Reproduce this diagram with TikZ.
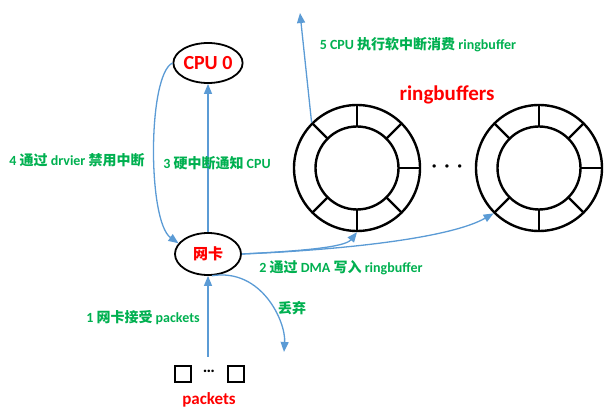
\documentclass[tikz,border=0pt]{standalone}
\usepackage{fontspec}
\setmainfont{Carlito}
\newfontfamily\cjk{Noto Sans CJK SC}
\newcommand{\zhtxt}[1]{{\cjk #1}}
\usetikzlibrary{shapes.geometric, arrows.meta}
\definecolor{FlowBlue}{RGB}{91,155,213}
\definecolor{LabelGreen}{RGB}{0,176,80}
\colorlet{TitleRed}{red}

\tikzset{
  flow/.style={draw=FlowBlue, line width=1.3pt, -{Triangle[length=10pt,width=8pt]}},
  lbl/.style={text=LabelGreen, font=\fontsize{14}{16}\selectfont\bfseries, inner sep=0pt},
  oval/.style={ellipse, draw, line width=1.8pt, minimum width=66pt, minimum height=40pt, inner sep=0pt, text=TitleRed},
  ringout/.style={circle, draw, line width=2.4pt, minimum size=126pt, inner sep=0pt},
  pkt/.style={draw, line width=2pt, minimum size=16pt, inner sep=0pt}
}

\begin{document}
\begin{tikzpicture}[x=1pt, y=1pt]
\useasboundingbox (0,0) rectangle (605,415);

\node [oval, font=\fontsize{20}{22}\selectfont\bfseries] (cpu) at (208,352) {CPU 0};
\node [oval, minimum height=42pt, font=\fontsize{15}{17}\selectfont\bfseries\cjk] (nic) at (208,161) {网卡};

\node [ringout] (ring1) at (357,247) {};
\node [ringout] (ring2) at (539,247) {};
\foreach \r in {ring1, ring2} {
  \draw [line width=2.4pt] (\r.center) circle (41.5pt);
  \foreach \a in {90,45,0,-45,-90,-135,135}
    \draw [line width=2.4pt] (\r.center) ++(\a:41.5pt) -- ++(\a:21.5pt);
}
\node [font=\fontsize{18}{18}\selectfont\bfseries] (gap) at (447,247) {·\hspace{8pt}·\hspace{8pt}·};
\node [text=TitleRed, font=\fontsize{21}{23}\selectfont\bfseries] (rbtitle) at (447,320) {ringbuffers};

\node [pkt] (p1) at (183,41) {};
\node [pkt] (p2) at (236,41) {};
\node [font=\fontsize{17}{17}\selectfont\bfseries] (pdots) at (209,44) {…};
\node [text=TitleRed, font=\fontsize{17}{19}\selectfont\bfseries] (pktname) at (209,15) {packets};

\coordinate (pktin) at (208,58);
\coordinate (drop) at (284,63);
\coordinate (soft) at (300,402);

\draw [flow] (pktin) -- (nic.south);
\draw [flow] (nic.north) -- (cpu.south);
\draw [flow] (cpu.west) .. controls +(-25,-12) and +(-31,22) .. (nic.160);
\draw [flow] (nic.east) .. controls +(60,3) and +(-12,-15) .. (ring1.south);
\draw [flow] (nic.east) .. controls +(99,4) and +(-44,-25) .. (ring2.-135);
\draw [flow] (nic.-80) .. controls +(50,8) and +(2,30) .. (drop);
\draw [flow] (ring1.135) -- (soft);

\node [lbl] (l1) at (143,97) {1 \zhtxt{网卡接受} packets};
\node [lbl] (l2) at (341,147) {2 \zhtxt{通过} DMA \zhtxt{写入} ringbuffer};
\node [lbl] (l3) at (217,252) {3 \zhtxt{硬中断通知} CPU};
\node [lbl] (l4) at (77,255) {4 \zhtxt{通过} drvier \zhtxt{禁用中断}};
\node [lbl] (l5) at (418,370) {5 CPU \zhtxt{执行软中断消费} ringbuffer};
\node [lbl] (ldrop) at (292,107) {\zhtxt{丢弃}};

\end{tikzpicture}
\end{document}
